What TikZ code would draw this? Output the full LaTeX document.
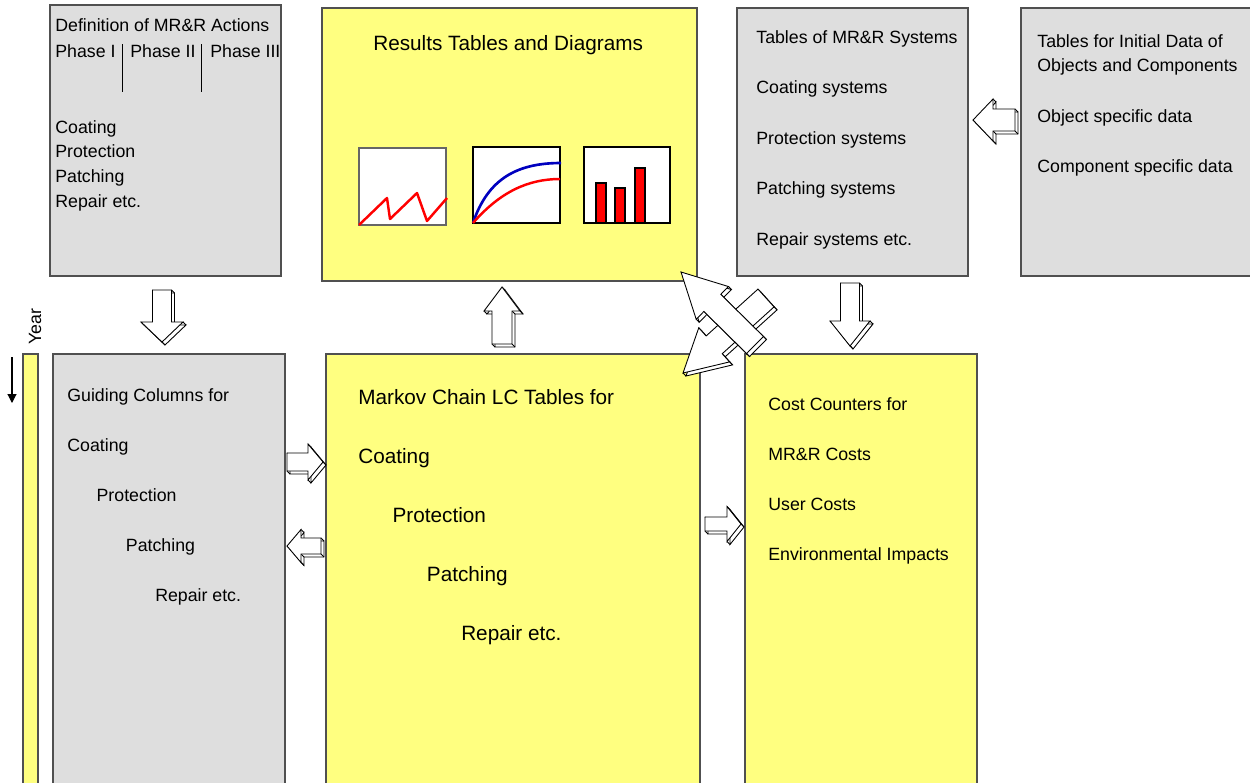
\documentclass[tikz,border=0pt]{standalone}
\usepackage{fontspec}
\setmainfont{Liberation Sans}
\usetikzlibrary{calc,fit,arrows.meta}
\definecolor{paleyellow}{HTML}{FFFF80}
\definecolor{panelgray}{HTML}{DEDEDE}
\definecolor{framegray}{HTML}{505050}

% hollow block arrow with a small depth: name, tail, tip, shaft, head width, head length (px)
\newcommand{\blockarrow}[6]{%
  \coordinate (#1-b) at ($(#3)!#6*0.02cm!(#2)$);
  \coordinate (#1-1) at ($(#2)!#4*0.01cm!90:(#3)$);
  \coordinate (#1-2) at ($(#1-b)!#4*0.01cm!90:(#3)$);
  \coordinate (#1-3) at ($(#1-b)!#5*0.01cm!90:(#3)$);
  \coordinate (#1-4) at (#3);
  \coordinate (#1-5) at ($(#1-b)!#5*0.01cm!-90:(#3)$);
  \coordinate (#1-6) at ($(#1-b)!#4*0.01cm!-90:(#3)$);
  \coordinate (#1-7) at ($(#2)!#4*0.01cm!-90:(#3)$);
  \draw[arrowline] ($(#1-1)+(3,3)$) \foreach \k in {2,...,7}{-- ($(#1-\k)+(3,3)$)} -- cycle;
  \foreach \k in {1,...,7} \draw[arrowline] (#1-\k) -- ++(3,3);
  \draw[arrowline] (#1-1) \foreach \k in {2,...,7}{-- (#1-\k)} -- cycle;
}

\begin{document}
\begin{tikzpicture}[x=0.02cm, y=-0.02cm,
    panel/.style={draw=framegray, line width=0.6pt, inner sep=0pt},
    graybox/.style={panel, fill=panelgray},
    yellowbox/.style={panel, fill=paleyellow},
    small/.style={font=\fontsize{10.1}{12}\selectfont, anchor=base west, inner sep=0pt},
    large/.style={font=\fontsize{11.8}{14}\selectfont, anchor=base west, inner sep=0pt},
    chart/.style={draw=black, line width=0.6pt, fill=white, inner sep=0pt},
    arrowline/.style={draw=black, line width=0.5pt, fill=white, line join=miter}]
  \useasboundingbox (0,0) rectangle (1250,782);

  % Panels
  \node[graybox, fit={(50,5) (281,276)}] (defs) {};
  \node[yellowbox, fit={(322,8) (697,281)}] (results) {};
  \node[graybox, fit={(737,8) (968,276)}] (systems) {};
  \node[graybox, fit={(1021,8) (1252,276)}] (initial) {};
  \node[yellowbox, fit={(23,354) (38,790)}] (yearbar) {};
  \node[graybox, fit={(53,354) (285,790)}] (guide) {};
  \node[yellowbox, fit={(326,354) (700,790)}] (markov) {};
  \node[yellowbox, fit={(745,354) (977,790)}] (cost) {};

  % Definition of actions
  \node[small] (defhead) at (55,31) {Definition of MR\&R Actions};
  \node[small] (ph1) at (55,57) {Phase I};
  \node[small] (ph2) at (130,57) {Phase II};
  \node[small] (ph3) at (210,57) {Phase III};
  \draw[line width=0.45pt] (122,44) -- (122,92);
  \draw[line width=0.45pt] (201,44) -- (201,92);
  \foreach \txt [count=\i from 0] in {Coating, Protection, Patching, Repair etc.}
    \node[small] (act\i) at (55,133+24.7*\i) {\txt};

  % Results
  \node[large] (reshead) at (373,50) {Results Tables and Diagrams};
  \node[chart, draw=black!60, fit={(359,148) (446,225)}] (saw) {};
  \node[chart, fit={(473,147) (560,223)}] (curves) {};
  \node[chart, fit={(584,147) (670,223)}] (bars) {};
  \draw[red, line width=1.4pt, line join=round]
    (359,225) -- (387,198) -- (390,219) -- (417,193) -- (427,221) -- (447,198);
  \draw[blue!75!black, line width=1.5pt] (473,223) .. controls (488,178) and (518,163) .. (561,163);
  \draw[red, line width=1.4pt] (473,223) .. controls (500,192) and (528,179) .. (560,179);
  \foreach \bx/\by in {596/183, 615/188, 635/168}
    \draw[fill=red, line width=0.6pt] (\bx,\by) rectangle (\bx+10,223);

  % Systems
  \foreach \txt [count=\i from 0] in {Tables of MR\&R Systems, Coating systems, Protection systems, Patching systems, Repair systems etc.}
    \node[small] (sys\i) at (756,43+50.5*\i) {\txt};

  % Initial data
  \node[small] (ini0) at (1037,47) {Tables for Initial Data of};
  \node[small] (ini1) at (1037,71) {Objects and Components};
  \node[small] (ini2) at (1037,122) {Object specific data};
  \node[small] (ini3) at (1037,172) {Component specific data};

  % Year
  \node[small, anchor=center, rotate=90] (yearlabel) at (35,327) {Year};
  \coordinate (ystart) at (12,357);
  \coordinate (yend) at (12,403);
  \draw[-{Triangle[width=5pt,length=5pt]}, line width=0.6pt] (ystart) -- (yend);

  % Guiding columns
  \node[small] (guidehead) at (67,401) {Guiding Columns for};
  \foreach \txt [count=\i from 0] in {Coating, Protection, Patching, Repair etc.}
    \node[small] (gc\i) at (67+29.3*\i,451+50.3*\i) {\txt};

  % Markov chain
  \node[large] (markhead) at (358,404) {Markov Chain LC Tables for};
  \foreach \txt [count=\i from 0] in {Coating, Protection, Patching, Repair etc.}
    \node[large] (mc\i) at (358+34.3*\i,463+59*\i) {\txt};

  % Cost counters
  \foreach \txt [count=\i from 0] in {Cost Counters for, MR\&R Costs, User Costs, Environmental Impacts}
    \node[small] (cc\i) at (768,410+50.3*\i) {\txt};

  % Block arrows
  \coordinate (a1t) at (162,290); \coordinate (a1h) at (162,342);
  \blockarrow{a1}{a1t}{a1h}{19}{42}{20}
  \coordinate (a2t) at (502,344); \coordinate (a2h) at (502,287);
  \blockarrow{a2}{a2t}{a2h}{20}{36}{24}
  \coordinate (a3t) at (850,283); \coordinate (a3h) at (850,346);
  \blockarrow{a3}{a3t}{a3h}{19}{40}{25}
  \coordinate (a4t) at (1015,120); \coordinate (a4h) at (973,120);
  \blockarrow{a4}{a4t}{a4h}{22}{42}{20}
  \coordinate (a5t) at (287,462); \coordinate (a5h) at (323,462);
  \blockarrow{a5}{a5t}{a5h}{18}{36}{15}
  \coordinate (a6t) at (321,546); \coordinate (a6h) at (287,546);
  \blockarrow{a6}{a6t}{a6h}{16}{33}{14}
  \coordinate (a7t) at (705,524); \coordinate (a7h) at (741,524);
  \blockarrow{a7}{a7t}{a7h}{14}{35}{14}
  \coordinate (a8t) at (766,298); \coordinate (a8h) at (683,373);
  \blockarrow{a8}{a8t}{a8h}{24}{46}{42}
  \coordinate (a9t) at (755,345); \coordinate (a9h) at (681,272);
  \blockarrow{a9}{a9t}{a9h}{24}{46}{44}
\end{tikzpicture}
\end{document}
